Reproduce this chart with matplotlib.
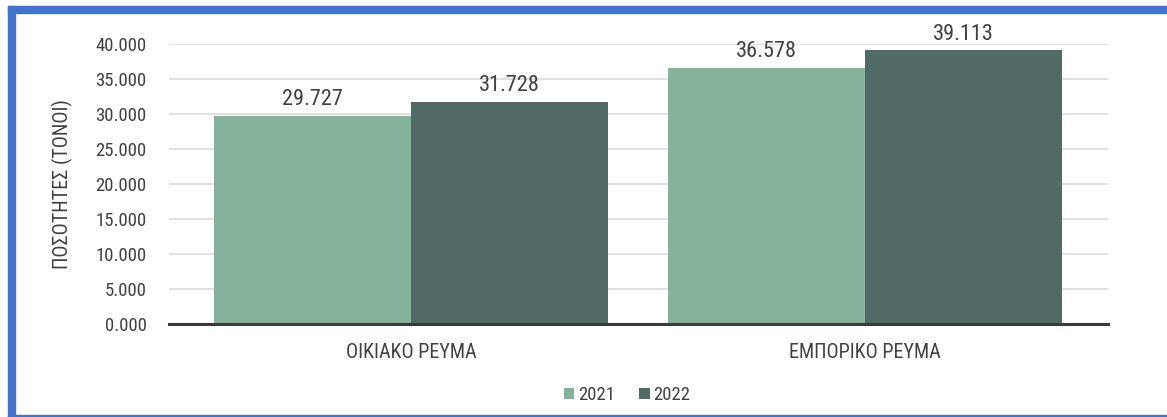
import matplotlib
matplotlib.use("Agg")
import matplotlib.pyplot as plt
import numpy as np
from matplotlib.patches import Rectangle
from matplotlib import font_manager as fm

categories = ["ΟΙΚΙΑΚΟ ΡΕΥΜΑ", "ΕΜΠΟΡΙΚΟ ΡΕΥΜΑ"]
series_names = ["2021", "2022"]
values_2021 = [29727, 36578]
values_2022 = [31728, 39113]
yticks = [0, 5000, 10000, 15000, 20000, 25000, 30000, 35000, 40000]
ylabel = "ΠΟΣΟΤΗΤΕΣ (ΤΟΝΟΙ)"

colors = ["#84b29a", "#516a66"]
text_color = "#404040"

available = set(f.name for f in fm.fontManager.ttflist)
cands = ["Roboto Condensed", "Fira Sans Condensed", "IBM Plex Sans Condensed",
         "Liberation Sans Narrow", "Roboto", "DejaVu Sans"]
fams = [c for c in cands if c in available] or ["DejaVu Sans"]
if "DejaVu Sans" not in fams:
    fams.append("DejaVu Sans")
plt.rcParams['font.family'] = fams

W, H = 1167, 417
fig = plt.figure(figsize=(W / 100, H / 100), dpi=100)
fig.patch.set_facecolor("white")

left, right, bottom, top = 169, 1108, 324, 44
ax = fig.add_axes([left / W, 1 - bottom / H, (right - left) / W, (bottom - top) / H])

x = np.arange(len(categories))
bw = 0.434
b1 = ax.bar(x - bw / 2, values_2021, bw, color=colors[0], label=series_names[0], zorder=2)
b2 = ax.bar(x + bw / 2, values_2022, bw, color=colors[1], label=series_names[1], zorder=2)

def fmt(v):
    return f"{v:,.0f}".replace(",", ".")

for bars, vals in ((b1, values_2021), (b2, values_2022)):
    for rect, v in zip(bars, vals):
        ax.annotate(fmt(v), (rect.get_x() + rect.get_width() / 2, v),
                    xytext=(0, 4), textcoords="offset points", ha="center", va="bottom",
                    fontsize=16, color=text_color, annotation_clip=False)

ax.set_xlim(-0.533, 1.535)
ax.set_ylim(0, 40000)
ax.set_yticks(yticks)
ax.set_yticklabels([f"{t/1000:.3f}" for t in yticks], fontsize=13.5, color=text_color)
ax.set_xticks(x)
ax.set_xticklabels(categories, fontsize=14.5, color=text_color)
ax.tick_params(axis="both", length=0)
ax.tick_params(axis="y", pad=16)
ax.tick_params(axis="x", pad=14)
ax.yaxis.grid(True, color="#dcdcdc", linewidth=1.2, zorder=0)
ax.set_axisbelow(True)
for s in ["top", "right", "left"]:
    ax.spines[s].set_visible(False)
ax.spines["bottom"].set_color("#3a3a3a")
ax.spines["bottom"].set_linewidth(2.2)
ax.spines["bottom"].set_zorder(3)

ax.set_ylabel(ylabel, fontsize=14.5, color=text_color, labelpad=16)

leg = fig.legend(handles=[b1, b2], labels=series_names, loc="center",
                 bbox_to_anchor=(627 / W, 1 - 395 / H), ncol=2, frameon=False,
                 fontsize=13.5, handlelength=0.55, handleheight=0.55,
                 handletextpad=0.2, columnspacing=1.3)
for t in leg.get_texts():
    t.set_color(text_color)

blue = "#4472c4"
fig.patches.append(Rectangle((8 / W, 1 - 13 / H), 1 - 8 / W, 7 / H,
                             transform=fig.transFigure, color=blue, zorder=10))
fig.patches.append(Rectangle((8 / W, 1 - 417 / H), 7 / W, 411 / H,
                             transform=fig.transFigure, color=blue, zorder=10))
fig.patches.append(Rectangle((8 / W, 0), 1 - 8 / W, 2.5 / H,
                             transform=fig.transFigure, color=blue, zorder=10))

fig.savefig("out.png", dpi=100, facecolor="white")
